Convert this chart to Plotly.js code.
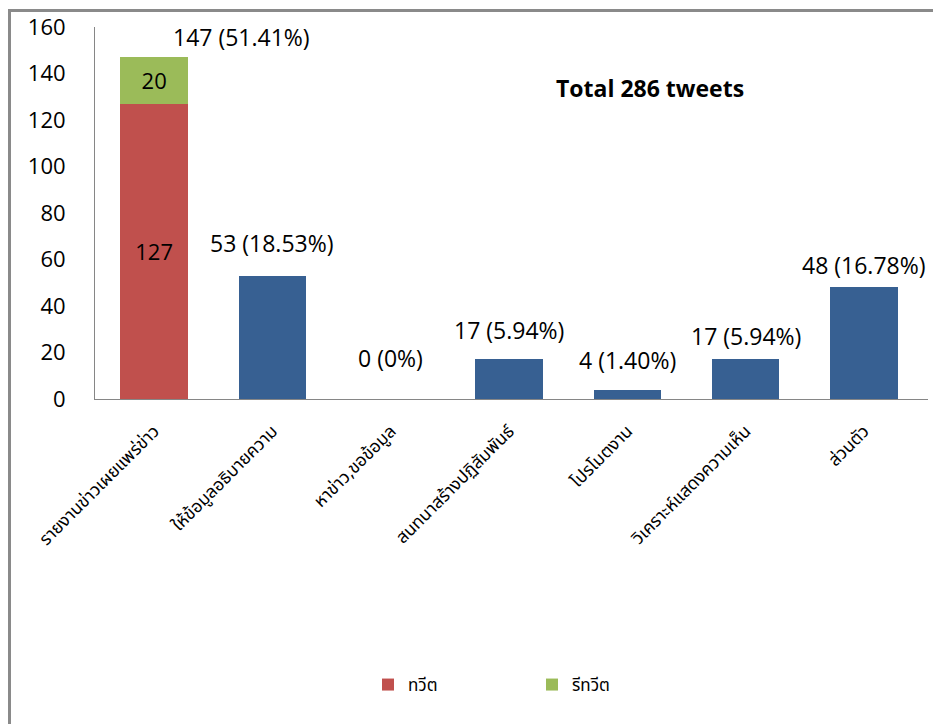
<!DOCTYPE html>
<html>
<head>
<meta charset="utf-8">
<script src="https://cdn.plot.ly/plotly-3.0.1.min.js"></script>
<style>
  html, body { margin: 0; padding: 0; background: #fff; }
  #chart { width: 933px; height: 724px; }
</style>
</head>
<body>
<div id="chart"></div>
<script>
// ---- data ----
var categories = ["รายงานข่าวเผยแพร่ข่าว", "ให้ข้อมูลอธิบายความ", "หาข่าว,ขอข้อมูล", "สนทนาสร้างปฏิสัมพันธ์", "โปรโมตงาน", "วิเคราะห์แสดงความเห็น", "ส่วนตัว"];
var tweetValues = [127, null, null, null, null, null, null];
var retweetValues = [20, null, null, null, null, null, null];
var otherValues = [null, 53, 0, 17, 4, 17, 48];
var totals = [147, 53, 0, 17, 4, 17, 48];
var totalLabels = ["147 (51.41%)", "53 (18.53%)", "0 (0%)", "17 (5.94%)", "4 (1.40%)", "17 (5.94%)", "48 (16.78%)"];
var tweetText = ["127", "", "", "", "", "", ""];
var retweetText = ["20", "", "", "", "", "", ""];
var seriesNames = ["ทวีต", "รีทวีต"];
var chartTitle = "Total 286 tweets";

// ---- styling ----
var numFont = "'Open Sans', 'Liberation Sans', sans-serif";
var thaiFont = "'Noto Sans Thai', 'Noto Sans', 'DejaVu Sans', sans-serif";
var labelYShift = [2, 15, 23, 11, 12, 5, 4];
var labelXShift = [87, 0, 0, 0, 0, 0, 0];

var traces = [
  {
    type: "bar", name: seriesNames[0], x: categories, y: tweetValues,
    marker: {color: "#C0504D"},
    text: tweetText, textposition: "inside", insidetextanchor: "middle",
    textfont: {family: numFont, size: 22, color: "#000"},
    hoverinfo: "x+y"
  },
  {
    type: "bar", name: seriesNames[1], x: categories, y: retweetValues,
    marker: {color: "#9BBB59"},
    text: retweetText, textposition: "inside", insidetextanchor: "middle",
    textfont: {family: numFont, size: 22, color: "#000"},
    hoverinfo: "x+y"
  },
  {
    type: "bar", name: "", x: categories, y: otherValues,
    marker: {color: "#376092"}, showlegend: false,
    hoverinfo: "x+y"
  }
];

var annotations = categories.map(function (c, i) {
  return {
    x: c, y: totals[i], xref: "x", yref: "y",
    text: totalLabels[i], showarrow: false,
    yanchor: "bottom", xanchor: "center",
    yshift: labelYShift[i], xshift: labelXShift[i],
    font: {family: numFont, size: 23, color: "#000"}
  };
});
annotations.push({
  xref: "paper", yref: "paper", x: (650 - 95) / 833, y: (399 - 88) / 372,
  text: "<b>" + chartTitle + "</b>", showarrow: false,
  xanchor: "center", yanchor: "middle",
  font: {family: numFont, size: 23, color: "#000"}
});

var layout = {
  width: 933, height: 724,
  margin: {l: 95, r: 5, t: 27, b: 325},
  paper_bgcolor: "#fff", plot_bgcolor: "#fff",
  barmode: "stack", bargap: 0.43,
  showlegend: true,
  legend: {
    orientation: "h", traceorder: "normal",
    x: (368 - 95) / 833, xanchor: "left",
    y: (399 - 685) / 372, yanchor: "middle",
    font: {family: thaiFont, size: 17, color: "#000"},
    entrywidth: 119, entrywidthmode: "pixels",
    bgcolor: "rgba(0,0,0,0)"
  },
  xaxis: {
    type: "category", showline: true, linecolor: "#868686", linewidth: 1,
    showgrid: false, zeroline: false, ticks: "",
    tickangle: -45, ticklabelstandoff: 14,
    tickfont: {family: thaiFont, size: 17.5, color: "#000"}
  },
  yaxis: {
    range: [0, 160], dtick: 20, tick0: 0,
    showline: true, linecolor: "#868686", linewidth: 1,
    showgrid: false, zeroline: false, ticks: "",
    ticklabelstandoff: 24,
    tickfont: {family: numFont, size: 22, color: "#000"}
  },
  annotations: annotations,
  shapes: [
    {
      type: "rect", xref: "paper", yref: "paper",
      x0: (9.5 - 95) / 833, x1: 1.2, y0: -1.2, y1: (399 - 10.5) / 372,
      line: {color: "#8a8a8a", width: 3}, fillcolor: "rgba(0,0,0,0)",
      layer: "below"
    }
  ]
};

Plotly.newPlot("chart", traces, layout, {displayModeBar: false, staticPlot: true});
</script>
</body>
</html>
